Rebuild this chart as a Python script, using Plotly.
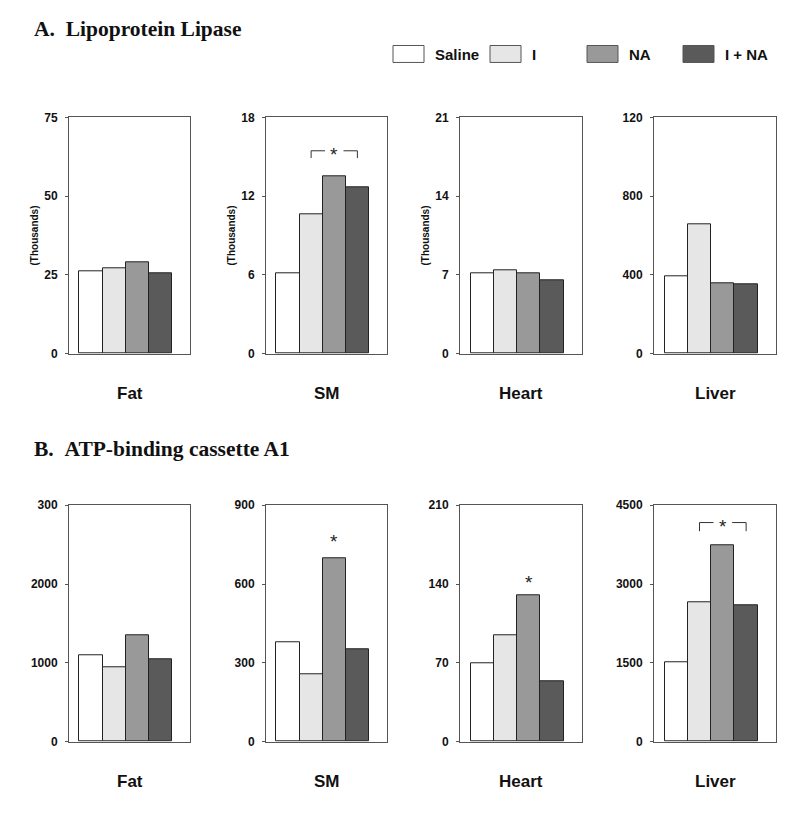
import plotly.graph_objects as go

# groups and tissues
groups = ["Saline", "I", "NA", "I + NA"]
tissues = ["Fat", "SM", "Heart", "Liver"]
colors = ["#ffffff", "#e6e6e6", "#999999", "#5a5a5a"]

# A. Lipoprotein lipase (per tissue, values in group order)
lpl_fat = [26.2, 27.2, 28.9, 25.4]
lpl_sm = [6.1, 10.65, 13.5, 12.7]
lpl_heart = [7.15, 7.4, 7.1, 6.55]
lpl_liver = [394, 655, 358, 350]

# B. ATP-binding cassette A1
abca_fat = [1100, 948, 1344, 1041]
abca_sm = [379, 258, 698, 353]
abca_heart = [69.6, 94.1, 129.8, 53.4]
abca_liver = [1504, 2654, 3735, 2598]

# axis tops and tick labels (as printed on the figure)
lpl_tops = [75, 18, 21, 1200]
lpl_ticks = [["0", "25", "50", "75"], ["0", "6", "12", "18"],
             ["0", "7", "14", "21"], ["0", "400", "800", "120"]]
abca_tops = [3000, 900, 210, 4500]
abca_ticks = [["0", "1000", "2000", "300"], ["0", "300", "600", "900"],
              ["0", "70", "140", "210"], ["0", "1500", "3000", "4500"]]

rows = [
    dict(title="A.\u00a0\u00a0Lipoprotein Lipase", values=[lpl_fat, lpl_sm, lpl_heart, lpl_liver],
         tops=lpl_tops, ticks=lpl_ticks, ylab=[True, True, True, False]),
    dict(title="B.\u00a0\u00a0ATP-binding cassette A1", values=[abca_fat, abca_sm, abca_heart, abca_liver],
         tops=abca_tops, ticks=abca_ticks, ylab=[False, False, False, False]),
]

W, H = 800, 813
# the captured page came out slightly squashed vertically, so pre-stretch
Y_SCALE, Y_OFF = 0.9854, 5.4
def xp(px):
    return px / W
def yp(py):
    return 1 - ((py - Y_OFF) / Y_SCALE) / H

col_px = [(69, 190), (266, 387), (460, 582), (654, 776)]
row_px = [(116, 353), (505, 742)]
title_py = [27, 449]
label_py = [393, 782]

SANS = "Liberation Sans, Arial, sans-serif"
SERIF = "Liberation Serif, Times New Roman, serif"
LINE = "#555555"

fig = go.Figure()
layout = {}
annotations = []
shapes = []

for r, row in enumerate(rows):
    for c, tissue in enumerate(tissues):
        k = r * 4 + c + 1
        sfx = "" if k == 1 else str(k)
        fig.add_trace(go.Bar(
            x=[0, 1, 2, 3], y=row["values"][c], width=1,
            marker=dict(color=colors, line=dict(color="#222222", width=1)),
            xaxis="x" + sfx, yaxis="y" + sfx, showlegend=False, hoverinfo="skip",
        ))
        top = row["tops"][c]
        layout["xaxis" + sfx] = dict(
            domain=[xp(col_px[c][0]), xp(col_px[c][1])], range=[-0.95, 4.28],
            anchor="y" + sfx, showticklabels=False, ticks="", showgrid=False, zeroline=False,
            showline=True, mirror=True, linecolor=LINE, linewidth=1, fixedrange=True,
        )
        layout["yaxis" + sfx] = dict(
            domain=[yp(row_px[r][1]), yp(row_px[r][0])], range=[0, top],
            anchor="x" + sfx, tickvals=[0, top / 3, 2 * top / 3, top], ticktext=row["ticks"][c],
            ticks="outside", ticklen=3, tickcolor=LINE, showgrid=False, zeroline=False,
            showline=True, mirror=True, linecolor=LINE, linewidth=1, fixedrange=True,
            tickfont=dict(family=SANS, size=12, color="#111111", weight="bold"),
            ticklabelstandoff=5,
        )
        annotations.append(dict(
            x=xp((col_px[c][0] + col_px[c][1]) / 2), y=yp(label_py[r]), xref="paper", yref="paper",
            text=tissue, showarrow=False, xanchor="center", yanchor="middle",
            font=dict(family=SANS, size=17, color="#111111", weight="bold"),
        ))
        if row["ylab"][c]:
            annotations.append(dict(
                x=xp(col_px[c][0] - 35), y=yp((row_px[r][0] + row_px[r][1]) / 2),
                xref="paper", yref="paper", text="(Thousands)", textangle=-90, showarrow=False,
                xanchor="center", yanchor="middle",
                font=dict(family=SANS, size=10, color="#111111", weight="bold"),
            ))
    annotations.append(dict(
        x=xp(32), y=yp(title_py[r]), xref="paper", yref="paper", text=row["title"],
        showarrow=False, xanchor="left", yanchor="middle",
        font=dict(family=SERIF, size=21.5, color="#111111", weight="bold"),
    ))

# significance marks: (axis index, bracket?, y of mark, bracket tick bottom)
sig = [(2, True, 15.45, 14.9), (6, False, 776, None), (7, False, 145, None), (8, True, 4171, 4007)]
for k, bracket, yv, ylow in sig:
    sfx = "" if k == 1 else str(k)
    annotations.append(dict(
        x=2, y=yv, xref="x" + sfx, yref="y" + sfx, text="*", showarrow=False,
        xanchor="center", yanchor="middle", yshift=-4,
        font=dict(family=SANS, size=19, color="#222222"),
    ))
    if bracket:
        for x0, x1 in [(1, 1.6), (2.4, 3)]:
            shapes.append(dict(type="line", xref="x" + sfx, yref="y" + sfx,
                               x0=x0, x1=x1, y0=yv, y1=yv, line=dict(color="#333333", width=1)))
        for xe in [1, 3]:
            shapes.append(dict(type="line", xref="x" + sfx, yref="y" + sfx,
                               x0=xe, x1=xe, y0=yv, y1=ylow, line=dict(color="#333333", width=1)))

# legend drawn by hand along the top
leg_box_px = [393, 490, 587, 683]
for g, name in enumerate(groups):
    shapes.append(dict(type="rect", xref="paper", yref="paper",
                       x0=xp(leg_box_px[g]), x1=xp(leg_box_px[g] + 31), y0=yp(61), y1=yp(44),
                       fillcolor=colors[g], line=dict(color="#555555", width=1)))
    annotations.append(dict(
        x=xp(leg_box_px[g] + 40), y=yp(53), xref="paper", yref="paper", text=name,
        showarrow=False, xanchor="left", yanchor="middle",
        font=dict(family=SANS, size=15, color="#111111", weight="bold"),
    ))

fig.update_layout(
    width=W, height=H, margin=dict(l=0, r=0, t=0, b=0),
    paper_bgcolor="white", plot_bgcolor="white",
    bargap=0, showlegend=False, annotations=annotations, shapes=shapes,
    **layout,
)

# drop the default body margin so the figure fills the window exactly
fig.write_html(
    "out.html",
    config={"displayModeBar": False},
    post_script="document.body.style.margin='0';document.body.style.overflow='hidden';",
)
